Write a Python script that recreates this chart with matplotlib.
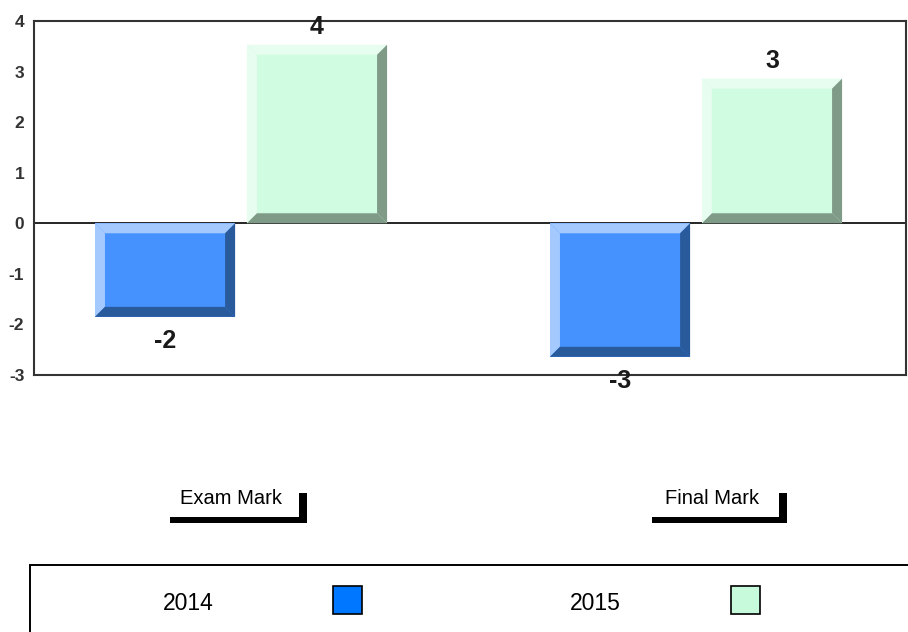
import matplotlib
matplotlib.use("Agg")
import matplotlib.pyplot as plt
from matplotlib.patches import Polygon, Rectangle
from matplotlib.transforms import IdentityTransform
import numpy as np

plt.rcParams['font.family'] = ['Liberation Sans', 'DejaVu Sans']

# ---- data ----
categories = ["Exam Mark", "Final Mark"]
series_names = ["2014", "2015"]
values_2014 = [-1.85, -2.64]
values_2015 = [3.53, 2.86]
labels_2014 = ["-2", "-3"]
labels_2015 = ["4", "3"]
y_ticks = [-3, -2, -1, 0, 1, 2, 3, 4]

# ---- styles ----
W, H = 908, 632
face = {"2014": "#4592FF", "2015": "#D0FCE1"}
light = {"2014": "#A3C9FF", "2015": "#E6FDEF"}
dark = {"2014": "#285A9C", "2015": "#7F9A87"}
swatch = {"2014": "#0077FF", "2015": "#C6FADB"}

fig = plt.figure(figsize=(W / 100, H / 100), dpi=100)
ax = fig.add_axes([34 / W, 1 - 375 / H, (906 - 34) / W, (375 - 21) / H])
ax.set_xlim(-0.455, 1.4615)
ax.set_ylim(-3, 4)
ax.set_yticks(y_ticks)
ax.set_yticklabels([str(t) for t in y_ticks], fontsize=12.5, fontweight='bold', color='#333333')
ax.set_xticks([])
ax.tick_params(axis='y', length=0, pad=7)
for s in ax.spines.values():
    s.set_color('#333333')
    s.set_linewidth(1.5)
ax.axhline(0, color='black', lw=1.2, zorder=1)

x = np.arange(len(categories))
bw = 0.308
off = 0.167
bevel = 10

def draw_bar(xc, v, key, lab):
    b = ax.bar(xc, v, width=bw, color=face[key], edgecolor='none', zorder=2)[0]
    x0, y0 = b.get_x(), min(0, v)
    x1, y1 = x0 + b.get_width(), max(0, v)
    (dx0, dyb) = ax.transData.transform((x0, y0))
    (dx1, dyt) = ax.transData.transform((x1, y1))
    k = bevel
    polys = [
        ([(dx0, dyt), (dx1, dyt), (dx1 - k, dyt - k), (dx0 + k, dyt - k)], light[key]),
        ([(dx0, dyt), (dx0 + k, dyt - k), (dx0 + k, dyb + k), (dx0, dyb)], light[key]),
        ([(dx0, dyb), (dx0 + k, dyb + k), (dx1 - k, dyb + k), (dx1, dyb)], dark[key]),
        ([(dx1, dyt), (dx1, dyb), (dx1 - k, dyb + k), (dx1 - k, dyt - k)], dark[key]),
    ]
    for pts, c in polys:
        ax.add_patch(Polygon(pts, closed=True, facecolor=c, edgecolor='none',
                             transform=IdentityTransform(), zorder=3))
    if v >= 0:
        ax.annotate(lab, (xc, v), xytext=(0, 8), textcoords='offset points',
                    ha='center', va='baseline', fontsize=18, fontweight='bold',
                    color='#1a1a1a', zorder=10, annotation_clip=False)
    else:
        ax.annotate(lab, (xc, v), xytext=(0, -22.5), textcoords='offset points',
                    ha='center', va='baseline', fontsize=18, fontweight='bold',
                    color='#1a1a1a', zorder=10, annotation_clip=False)

for i in range(len(categories)):
    draw_bar(x[i] - off, values_2014[i], "2014", labels_2014[i])
    draw_bar(x[i] + off, values_2015[i], "2015", labels_2015[i])

# ---- category labels with L-shaped underline ----
cat_pos = [(231, 170, 307), (712.5, 652, 787)]
for name, (cx, lx0, lx1) in zip(categories, cat_pos):
    fig.text(cx / W, 1 - 499 / H, name, ha='center', va='center', fontsize=14.5, color='black')
    fig.patches.append(Rectangle((lx0 / W, 1 - 523 / H), (lx1 - lx0) / W, 6 / H,
                                 transform=fig.transFigure, facecolor='black', edgecolor='none'))
    fig.patches.append(Rectangle(((lx1 - 8) / W, 1 - 523 / H), 8 / W, 30 / H,
                                 transform=fig.transFigure, facecolor='black', edgecolor='none'))

# ---- legend box ----
fig.patches.append(Rectangle((30 / W, -0.2), 1.0, (H - 565) / H + 0.2,
                             transform=fig.transFigure, facecolor='white',
                             edgecolor='black', linewidth=1.4))
leg_pos = [(188.5, 333), (595, 731)]
for name, (tx, sx) in zip(series_names, leg_pos):
    fig.text(tx / W, 1 - 603 / H, name, ha='center', va='center', fontsize=16.5, color='black')
    fig.patches.append(Rectangle((sx / W, 1 - 614 / H), 29 / W, 28 / H,
                                 transform=fig.transFigure, facecolor=swatch[name],
                                 edgecolor='black', linewidth=1.2))

fig.savefig('out.png', dpi=100)
